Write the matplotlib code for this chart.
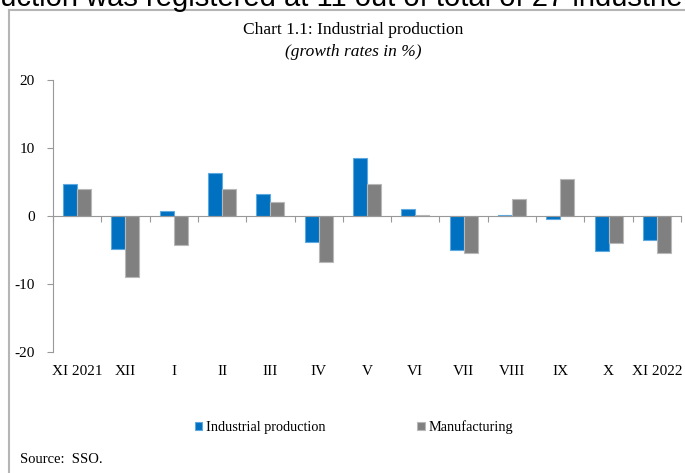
import matplotlib.pyplot as plt
import numpy as np
from matplotlib.lines import Line2D

# data
months = ['XI 2021', 'XII', 'I', 'II', 'III', 'IV', 'V', 'VI', 'VII', 'VIII', 'IX', 'X', 'XI 2022']
industrial = [4.7, -4.8, 0.8, 6.3, 3.3, -3.8, 8.5, 1.0, -5.0, 0.2, -0.5, -5.2, -3.6]
manufacturing = [4.0, -9.0, -4.3, 4.0, 2.1, -6.8, 4.7, 0.2, -5.5, 2.5, 5.5, -3.9, -5.5]

plt.rcParams['font.family'] = ['Liberation Serif', 'DejaVu Serif']
plt.rcParams['axes.unicode_minus'] = False

fig = plt.figure(figsize=(6.85, 4.73), dpi=100)
ax = fig.add_axes([53 / 685, 121 / 473, 628 / 685, 272 / 473])

x = np.arange(len(months))
w = 0.29
ax.bar(x - w / 2, industrial, w, color='#0070C0', edgecolor='#5DA9E0', linewidth=0.8,
       label='Industrial production')
ax.bar(x + w / 2, manufacturing, w, color='#808080', edgecolor='#B8B8B8', linewidth=0.8,
       label='Manufacturing')

ax.set_xlim(-0.5, len(months) - 0.5)
ax.set_ylim(-20, 20)
ax.set_yticks([-20, -10, 0, 10, 20])
ax.tick_params(axis='y', labelsize=11, length=4, color='#999999', pad=9)

# zero line with category boundary ticks
ax.spines['bottom'].set_position(('data', 0))
ax.spines['bottom'].set_color('#999999')
ax.set_xticks(np.arange(len(months) + 1) - 0.5)
ax.set_xticklabels([])
ax.tick_params(axis='x', length=4, color='#999999', direction='out')

# month labels at the bottom
sec = ax.secondary_xaxis(0)
sec.set_xticks(x)
sec.set_xticklabels(months)
sec.tick_params(length=0, labelsize=11, pad=9)
sec.spines['bottom'].set_visible(False)

ax.spines['left'].set_color('#999999')
ax.spines['top'].set_visible(False)
ax.spines['right'].set_visible(False)

fig.text(0.515, 1 - 30 / 473, 'Chart 1.1: Industrial production', ha='center', va='center', fontsize=12.5)
fig.text(0.515, 1 - 52 / 473, '(growth rates in %)', ha='center', va='center', fontsize=12.5,
         style='italic')

leg = fig.legend(loc='center', bbox_to_anchor=(0.517, 1 - 427 / 473), ncol=2, frameon=False,
                 fontsize=10.3, handlelength=0.5, handleheight=0.5, columnspacing=6.4,
                 handletextpad=0.3)
for t in leg.get_texts():
    t.set_fontfamily('Liberation Serif')

fig.text(20 / 685, 1 - 459 / 473, 'Source:  SSO.', ha='left', va='center', fontsize=10.5)

# cut-off body text above the chart box
fig.text(-16 / 685, 1 - 6 / 473, 'duction was registered at 11 out of total of 27 industrie',
         ha='left', va='baseline', fontsize=21, family='Liberation Sans')

# frame around the chart
fig.add_artist(Line2D([9 / 685, 9 / 685], [0, 1 - 10 / 473], transform=fig.transFigure,
                      color='#b5b5b5', linewidth=1.5))
fig.add_artist(Line2D([9 / 685, 1], [1 - 10 / 473, 1 - 10 / 473], transform=fig.transFigure,
                      color='#b5b5b5', linewidth=1.5))

plt.savefig('out.png', dpi=100)
